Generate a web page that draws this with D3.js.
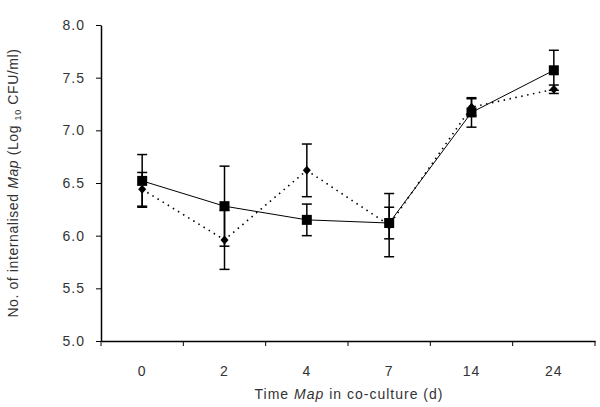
<!DOCTYPE html>
<html><head><meta charset="utf-8">
<script src="https://cdn.jsdelivr.net/npm/d3@7"></script>
<style>body{margin:0;background:#fff}svg{display:block}</style>
</head><body>
<script>
const categories = ["0","2","4","7","14","24"];
const squareMeans = [6.52, 6.28, 6.15, 6.12, 7.17, 7.57];
const squareErr   = [0.25, 0.38, 0.15, 0.15, 0.14, 0.19];
const diamondMeans = [6.44, 5.96, 6.62, 6.10, 7.22, 7.39];
const diamondErr   = [0.16, 0.28, 0.25, 0.30, 0.08, 0.04];
const yTicks = [5.0, 5.5, 6.0, 6.5, 7.0, 7.5, 8.0];

const W = 600, H = 407;
const svg = d3.select("body").append("svg").attr("width", W).attr("height", H)
  .style("font-family", "'Liberation Sans', Arial, sans-serif");

const x = d3.scaleBand().domain(categories).range([101, 595]).padding(0);
const y = d3.scaleLinear().domain([5, 8]).range([341, 25]);

// axes
const yAxis = svg.append("g").attr("transform", "translate(101,0)")
  .call(d3.axisLeft(y).tickValues(yTicks).tickFormat(d3.format(".1f")).tickSizeInner(5).tickSizeOuter(0).tickPadding(11));
yAxis.select(".domain").attr("stroke", "#000").attr("stroke-width", 1.5);
yAxis.selectAll(".tick line").attr("stroke", "#000");
yAxis.selectAll("text").attr("font-size", 14).attr("letter-spacing", 1).attr("fill", "#333");

const xAxis = svg.append("g").attr("transform", "translate(0,341)")
  .call(d3.axisBottom(x).tickSize(0).tickPadding(25));
xAxis.select(".domain").attr("stroke", "#000").attr("stroke-width", 1.5);
xAxis.selectAll("text").attr("font-size", 14).attr("letter-spacing", 1).attr("fill", "#333");
// boundary ticks
const bounds = categories.map(c => x(c)).concat([x.range()[1]]);
xAxis.selectAll(".btick").data(bounds).enter().append("line")
  .attr("x1", d => d).attr("x2", d => d).attr("y1", 0).attr("y2", 5)
  .attr("stroke", "#000");

// axis titles
const xt = svg.append("text").attr("x", 349).attr("y", 399).attr("text-anchor", "middle")
  .attr("font-size", 14).attr("letter-spacing", 1).attr("fill", "#333");
xt.append("tspan").text("Time ");
xt.append("tspan").attr("font-style", "italic").text("Map");
xt.append("tspan").text("  in co-culture (d)");

const yt = svg.append("text").attr("transform", "translate(18,183) rotate(-90)")
  .attr("text-anchor", "middle").attr("font-size", 14).attr("letter-spacing", 0.6).attr("fill", "#333");
yt.append("tspan").text("No. of internalised ");
yt.append("tspan").attr("font-style", "italic").text("Map");
yt.append("tspan").text(" (Log ");
yt.append("tspan").attr("font-size", 9).attr("dy", 3).text("10");
yt.append("tspan").attr("dy", -3).text(" CFU/ml)");

const cx = c => x(c) + x.bandwidth() / 2;

function drawSeries(means, errs, dashed, shape) {
  const pts = categories.map((c, i) => ({c, m: means[i], e: errs[i]}));
  svg.append("path").datum(pts)
    .attr("d", d3.line().x(d => cx(d.c)).y(d => y(d.m)))
    .attr("fill", "none").attr("stroke", "#000").attr("stroke-width", dashed ? 1.6 : 1)
    .attr("stroke-dasharray", dashed ? "1.5,4.5" : null);
  const g = svg.append("g");
  pts.forEach(d => {
    const X = cx(d.c), y1 = y(d.m + d.e), y2 = y(d.m - d.e);
    g.append("line").attr("x1", X).attr("x2", X).attr("y1", y1).attr("y2", y2).attr("stroke", "#000").attr("stroke-width", 1.5);
    [y1, y2].forEach(yy => g.append("line").attr("x1", X - 5).attr("x2", X + 5).attr("y1", yy).attr("y2", yy).attr("stroke", "#000").attr("stroke-width", 1.5));
  });
  pts.forEach(d => {
    const X = cx(d.c), Y = y(d.m);
    if (shape === "square") {
      g.append("rect").attr("x", X - 5).attr("y", Y - 5).attr("width", 10).attr("height", 10).attr("fill", "#000");
    } else {
      g.append("path").attr("d", `M${X},${Y-4.5}L${X+4},${Y}L${X},${Y+4.5}L${X-4},${Y}Z`).attr("fill", "#000");
    }
  });
}
drawSeries(diamondMeans, diamondErr, true, "diamond");
drawSeries(squareMeans, squareErr, false, "square");
</script>
</body></html>
